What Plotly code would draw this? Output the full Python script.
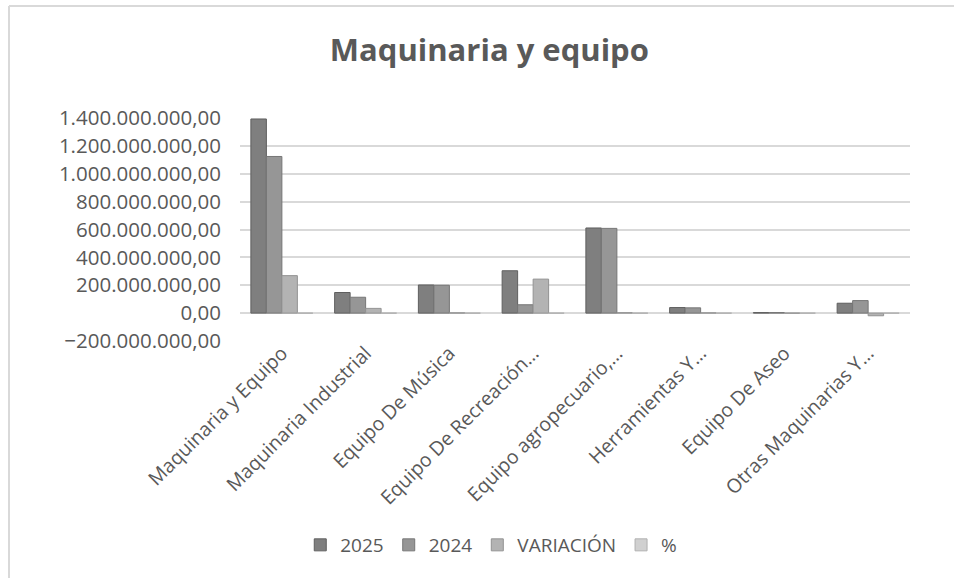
import plotly.graph_objects as go

categories = ["Maquinaria y Equipo", "Maquinaria Industrial", "Equipo De Música",
              "Equipo De Recreación…", "Equipo agropecuario,…", "Herramientas Y…",
              "Equipo De Aseo", "Otras Maquinarias Y…"]
v2025 = [1393000000, 148000000, 202000000, 304000000, 611000000, 40000000, 4000000, 71000000]
v2024 = [1124000000, 114000000, 200000000, 60000000, 608000000, 38000000, 4000000, 90000000]
variacion = [269000000, 34000000, 2000000, 244000000, 3000000, 2000000, 0, -19000000]
pct = [0.24, 0.3, 0.01, 4.07, 0.005, 0.05, 0.0, -0.21]

series = [("2025", v2025, "#7f7f7f", "#5f5f5f"),
          ("2024", v2024, "#969696", "#767676"),
          ("VARIACIÓN", variacion, "#b3b3b3", "#939393"),
          ("%", pct, "#d0d0d0", "#b0b0b0")]

fig = go.Figure()
for name, vals, col, edge in series:
    fig.add_trace(go.Bar(x=categories, y=vals, name=name,
                         marker=dict(color=col, line=dict(color=edge, width=1))))

W, H = 954, 578
L, R, T, B = 240, 44, 118, 237
pw, ph = W - L - R, H - T - B

def px2paper_x(px):
    return (px - L) / pw

def px2paper_y(py):
    return (H - B - py) / ph

fig.update_layout(
    width=W, height=H,
    margin=dict(l=L, r=R, t=T, b=B),
    paper_bgcolor="white", plot_bgcolor="white",
    separators=",.",
    barmode="group", bargap=0.26, bargroupgap=0.0,
    font=dict(family="Open Sans", color="#595959"),
    title=dict(text="<b>Maquinaria y equipo</b>", x=0.513, xanchor="center",
               y=1 - 50 / H, yanchor="middle",
               font=dict(size=31, color="#595959", family="Open Sans")),
    xaxis=dict(tickangle=-45, tickfont=dict(size=19.5, color="#595959"),
               showline=False, ticks="", showgrid=False, ticklabelstandoff=-4),
    yaxis=dict(range=[-200000000, 1400000000], dtick=200000000, tickformat=",.2f",
               tickfont=dict(size=20.5, color="#595959"), gridcolor="#d9d9d9", gridwidth=2,
               zeroline=True, zerolinecolor="#d9d9d9", zerolinewidth=2,
               showline=False, ticks="", ticklabelstandoff=18),
    legend=dict(orientation="h", x=0.375, xanchor="center", y=px2paper_y(545), yanchor="middle",
                font=dict(size=19, color="#595959"), itemwidth=30, traceorder="normal"),
    shapes=[
        dict(type="line", xref="paper", yref="paper", x0=px2paper_x(9), x1=px2paper_x(954),
             y0=px2paper_y(6), y1=px2paper_y(6), line=dict(color="#d9d9d9", width=2)),
        dict(type="line", xref="paper", yref="paper", x0=px2paper_x(9), x1=px2paper_x(9),
             y0=px2paper_y(6), y1=px2paper_y(578), line=dict(color="#d9d9d9", width=2)),
    ],
)

fig.write_html("out.html", config={"displayModeBar": False},
               post_script="document.body.style.margin='0';")
